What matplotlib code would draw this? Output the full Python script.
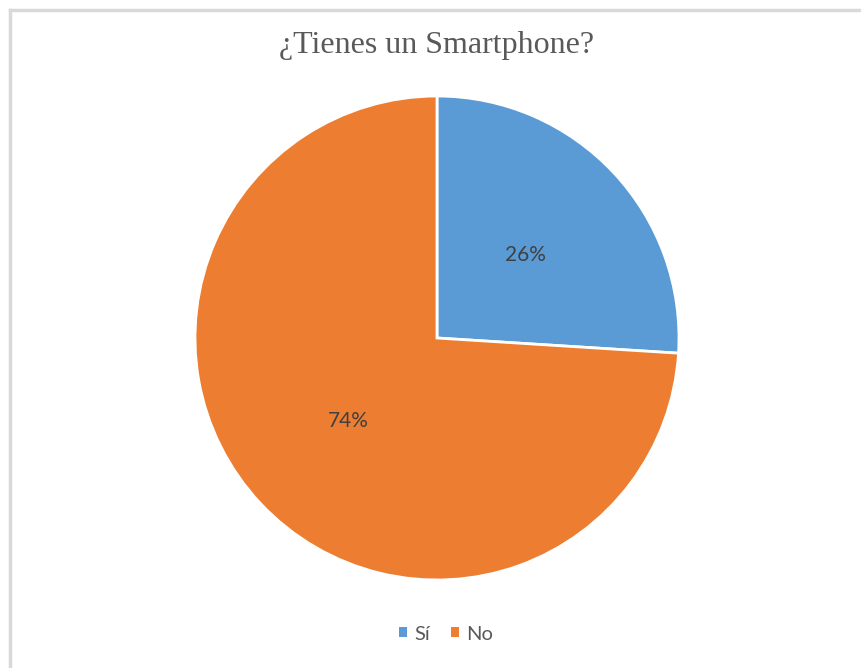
import matplotlib.pyplot as plt
from matplotlib.lines import Line2D
from matplotlib.patches import Patch

labels = ["Sí", "No"]
values = [26, 74]
colors = ["#5B9BD5", "#ED7D31"]

fig = plt.figure(figsize=(8.61, 6.68), dpi=100)

# chart frame (only top and left edges visible)
fig.add_artist(Line2D([10/861, 10/861], [0, 1 - 10/668], color="#d9d9d9", lw=2.5))
fig.add_artist(Line2D([10/861, 1], [1 - 10/668, 1 - 10/668], color="#d9d9d9", lw=2.5))

ax = fig.add_axes([195/861, 88/668, 484/861, 484/668])
wedges, texts, autotexts = ax.pie(values, colors=colors, startangle=90, counterclock=False,
                                  autopct="%d%%", pctdistance=0.5,
                                  wedgeprops=dict(edgecolor="white", linewidth=2),
                                  textprops=dict(color="#404040", fontsize=15, family="Lato"))
ax.set_xlim(-1, 1)
ax.set_ylim(-1, 1)
ax.set_aspect("equal")
ax.axis("off")

fig.text(437/861, 1 - 45/668, "¿Tienes un Smartphone?", ha="center", va="center",
         fontsize=23, color="#595959", family="Liberation Serif")

handles = [Patch(facecolor=c, edgecolor="none") for c in colors]
fig.legend(handles, labels, loc="center", bbox_to_anchor=(446/861, 1 - 634/668), ncol=2,
           frameon=False, handlelength=0.4, handleheight=0.4, handletextpad=0.4,
           columnspacing=1.0, prop=dict(family="Lato", size=14.5), labelcolor="#595959")

fig.savefig("out.png", dpi=100)
